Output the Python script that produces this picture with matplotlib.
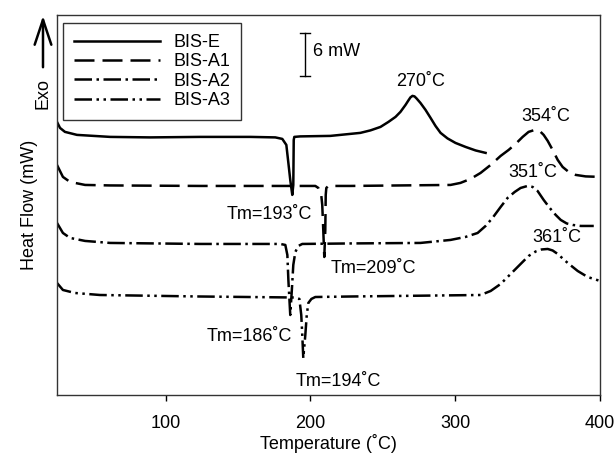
import matplotlib
matplotlib.use("Agg")
import matplotlib.pyplot as plt

plt.rcParams['font.family'] = ['Liberation Sans', 'DejaVu Sans']
plt.rcParams['font.size'] = 13

# ---- data (Temperature in C, heat flow in mW with arbitrary offsets) ----
bis_e_T = [25.0, 27.1, 30.5, 38.8, 61.7, 89.3, 123.9, 158.5, 175.8, 180.6, 183.4, 184.8,
           186.1, 187.5, 188.2, 188.5, 188.9, 193.0, 213.8, 234.5, 241.5, 248.4, 253.9,
           258.8, 262.2, 265.7, 267.7, 269.1, 270.5, 271.9, 273.3, 276.0, 279.5, 283.0,
           286.4, 289.9, 294.7, 300.2, 307.2, 314.1, 321.0]
bis_e_H = [38.09, 37.25, 36.70, 36.28, 36.00, 35.93, 36.00, 36.00, 35.93, 35.72, 34.88, 32.37,
           30.00, 27.91, 29.30, 35.58, 36.00, 36.07, 36.14, 36.56, 36.91, 37.39, 38.09,
           38.79, 39.49, 40.46, 41.09, 41.51, 41.72, 41.65, 41.37, 40.74, 39.77, 38.65,
           37.53, 36.56, 35.79, 35.16, 34.60, 34.11, 33.77]

bis_a1_T = [25.0, 29.1, 34.0, 44.4, 61.7, 123.9, 193.0, 203.4, 205.5, 207.5, 208.2, 208.9,
            209.6, 210.3, 210.6, 211.0, 212.4, 227.6, 262.2, 296.8, 303.6, 310.6, 317.5,
            324.5, 331.4, 336.9, 341.7, 346.6, 350.7, 354.9, 358.3, 361.1, 363.9, 367.3,
            370.8, 374.2, 378.4, 383.2, 390.1, 400.0]
bis_a1_H = [32.09, 30.42, 29.72, 29.30, 29.23, 29.16, 29.16, 29.16, 28.88, 27.91, 26.51, 23.02,
            19.25, 23.02, 27.91, 28.88, 29.16, 29.16, 29.23, 29.30, 29.58, 30.14, 30.97,
            32.09, 33.35, 34.18, 35.02, 36.00, 36.70, 36.97, 36.84, 36.28, 35.44, 34.18,
            32.79, 31.81, 31.11, 30.70, 30.49, 30.42]

bis_a2_T = [25.0, 29.1, 34.0, 44.4, 61.7, 123.9, 179.2, 182.7, 184.1, 184.8, 186.1, 187.2,
            188.2, 189.6, 191.7, 194.4, 227.6, 276.0, 296.8, 307.2, 315.5, 321.0, 325.8,
            331.4, 336.2, 341.1, 345.2, 350.0, 353.5, 356.9, 361.1, 365.3, 369.4, 372.9,
            377.0, 381.2, 386.7, 395.7]
bis_a2_H = [24.00, 22.60, 21.91, 21.49, 21.21, 21.07, 21.07, 20.93, 19.53, 16.05, 11.16, 14.65,
            18.14, 19.95, 20.79, 21.07, 21.14, 21.21, 21.63, 22.05, 22.60, 23.58, 24.70,
            26.23, 27.49, 28.32, 28.88, 29.16, 29.02, 28.46, 27.21, 26.09, 25.12, 24.42,
            23.93, 23.72, 23.58, 23.58]

bis_a3_T = [25.0, 29.1, 37.4, 54.7, 123.9, 189.6, 192.4, 193.7, 194.4, 195.1, 196.5, 197.5,
            198.6, 200.7, 203.4, 227.6, 317.5, 324.5, 331.4, 338.3, 345.2, 350.7, 355.6,
            359.7, 363.9, 367.3, 370.8, 374.2, 377.7, 384.6, 391.5, 400.0]
bis_a3_H = [15.63, 14.65, 14.23, 13.95, 13.74, 13.60, 13.40, 11.16, 8.37, 5.16, 8.37, 11.16,
            12.84, 13.40, 13.67, 13.74, 13.95, 14.51, 15.49, 16.88, 18.28, 19.39, 20.02,
            20.30, 20.37, 20.16, 19.67, 19.05, 18.42, 17.30, 16.46, 15.91]

series_names = ['BIS-E', 'BIS-A1', 'BIS-A2', 'BIS-A3']
xticks = [100, 200, 300, 400]

peak_labels = ['270˚C', '354˚C', '351˚C', '361˚C']
peak_pos = [(276.0, 43.67), (362.5, 38.79), (353.5, 30.97), (370.1, 21.91)]
tm_labels = ['Tm=193˚C', 'Tm=209˚C', 'Tm=186˚C', 'Tm=194˚C']
tm_pos = [(171.6, 25.11), (243.5, 17.58), (157.8, 8.23), (219.3, 1.95)]

# ---- figure ----
fig = plt.figure(figsize=(6.16, 4.59), dpi=100)
ax = fig.add_axes([0.0925, 0.1394, 0.974 - 0.0925, 0.9673 - 0.1394])

lw = 1.8
styles = ['-', (0, (8, 3.2)), (0, (7, 1.8, 1, 1.8)), (0, (7, 1.8, 1, 1.8, 1, 1.8))]
data = [(bis_e_T, bis_e_H), (bis_a1_T, bis_a1_H), (bis_a2_T, bis_a2_H), (bis_a3_T, bis_a3_H)]
for (T, H), ls, name in zip(data, styles, series_names):
    ax.plot(T, H, color='black', lw=lw, linestyle=ls, label=name,
            solid_joinstyle='round', dash_joinstyle='round')

ax.set_xlim(25, 400)
ax.set_ylim(0, 53)
ax.set_xticks(xticks)
ax.set_yticks([])
ax.tick_params(axis='x', direction='out', length=4, width=1, pad=10.5, labelsize=13)
for s in ax.spines.values():
    s.set_linewidth(1.0)
    s.set_color('#333333')

ax.set_xlabel('Temperature (˚C)', fontsize=13, labelpad=1)
ax.set_ylabel('Heat Flow (mW)', fontsize=13, labelpad=14)

for lab, (x, y) in zip(peak_labels, peak_pos):
    ax.text(x, y, lab, ha='center', va='center', fontsize=13)
for lab, (x, y) in zip(tm_labels, tm_pos):
    ax.text(x, y, lab, ha='center', va='center', fontsize=13)

# scale bar 6 mW
bar_T = 196.5
bar_top = 50.51
bar_len = 6.0
ax.plot([bar_T, bar_T], [bar_top - bar_len, bar_top], color='black', lw=1)
ax.plot([bar_T - 3.5, bar_T + 3.5], [bar_top, bar_top], color='black', lw=1)
ax.plot([bar_T - 3.5, bar_T + 3.5], [bar_top - bar_len, bar_top - bar_len], color='black', lw=1)
ax.text(202.0, 47.86, '6 mW', ha='left', va='center', fontsize=13)

leg = ax.legend(loc='upper left', bbox_to_anchor=(0.011, 0.979), borderaxespad=0,
                frameon=True, fancybox=False, framealpha=1, edgecolor='#333333',
                handlelength=4.8, handletextpad=0.7, labelspacing=0.13, borderpad=0.6,
                fontsize=13)
leg.get_frame().set_linewidth(1.0)

# Exo arrow
fig.patches.append(matplotlib.patches.FancyArrowPatch(
    (0.0698, 0.8475), (0.0698, 0.9717), transform=fig.transFigure,
    arrowstyle='->,head_length=0.9,head_width=0.3', mutation_scale=20,
    color='black', lw=1.8))
fig.text(0.0698, 0.797, 'Exo', rotation=90, ha='center', va='center', fontsize=13)

fig.savefig('out.png', dpi=100)
